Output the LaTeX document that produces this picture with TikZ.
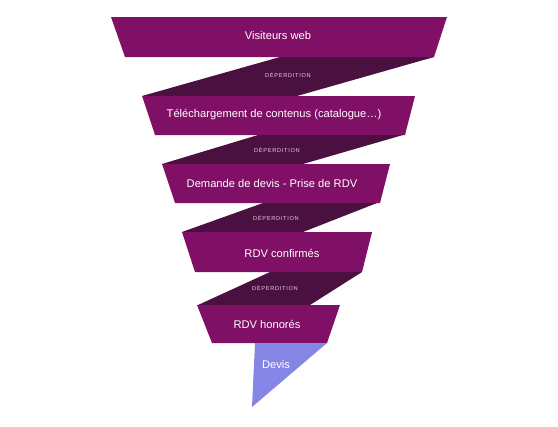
\documentclass[tikz,border=0pt]{standalone}
\usepackage{fontspec}
\setmainfont{Liberation Sans}
\newfontfamily\lossfont[LetterSpace=12]{Liberation Sans}
\definecolor{bandpurple}{HTML}{801066}
\definecolor{lossdark}{HTML}{4A1040}
\definecolor{devisblue}{HTML}{8585E6}
\definecolor{losstext}{HTML}{E6D0E0}
\tikzset{
  band/.style={fill=bandpurple},
  loss/.style={fill=lossdark},
  stagetext/.style={text=white,font=\fontsize{11.2}{13}\selectfont,inner sep=0pt},
  losslabel/.style={text=losstext,font=\lossfont\fontsize{5.7}{7}\selectfont,inner sep=0pt}
}
\begin{document}
\begin{tikzpicture}[x=1bp,y=-1bp]
\useasboundingbox (0,0) rectangle (558,426);
% pertes
\foreach \t/\b/\tl/\tr/\br/\bl in {57/96/280/434/297/142, 135/164/258/403/303/162, 203/232/263/377/303/182, 272/305/270/362/310/198}
  \fill[loss] (\tl,\t) -- (\tr,\t) -- (\br,\b) -- (\bl,\b) -- cycle;
% étages
\foreach \t/\b/\tl/\tr/\br/\bl in {17/57/111/447/434/125, 96/135/142/415/405/155, 164/203/162/390/380/175, 232/272/182/372/362/195, 305/343/197/340/327/212}
  \fill[band] (\tl,\t) -- (\tr,\t) -- (\br,\b) -- (\bl,\b) -- cycle;
\fill[devisblue] (255,343) -- (327,343) -- (252,407) -- cycle;
% textes
\node[stagetext] (visiteurs) at (278,36) {Visiteurs web};
\node[stagetext] (telech) at (274,115) {Téléchargement de contenus (catalogue…)};
\node[stagetext] (demande) at (272,184) {Demande de devis - Prise de RDV};
\node[stagetext] (confirmes) at (282,253) {RDV confirmés};
\node[stagetext] (honores) at (267,324) {RDV honorés};
\node[stagetext] (devis) at (276,364) {Devis};
\node[losslabel] (perte1) at (288,75) {DÉPERDITION};
\node[losslabel] (perte2) at (277,150) {DÉPERDITION};
\node[losslabel] (perte3) at (276,218) {DÉPERDITION};
\node[losslabel] (perte4) at (275,288) {DÉPERDITION};
\end{tikzpicture}
\end{document}
